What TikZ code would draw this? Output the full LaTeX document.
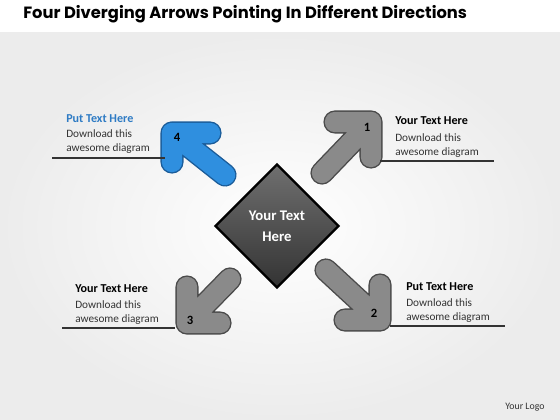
\documentclass[tikz,border=0pt]{standalone}
\usepackage{fontspec}
\setmainfont{Carlito}
\newfontfamily\titlefont{Poppins}
\usetikzlibrary{positioning, shapes.geometric}
\usepackage{xcolor}

\definecolor{headblue}{HTML}{2E7BC4}
\definecolor{arrowblue}{HTML}{2F8FDF}
\definecolor{arrowblueedge}{HTML}{1B5C99}
\definecolor{arrowgray}{HTML}{8A8A8A}
\definecolor{arrowgrayedge}{HTML}{4A4A4A}
\definecolor{bggray}{HTML}{ECECEC}
\definecolor{bodygray}{HTML}{333333}

\tikzset{
  arrowbody/.style 2 args={line cap=round, line join=round, line width=14.5pt, draw=#1,
    preaction={draw=#2, line width=16.5pt, line cap=round, line join=round}},
  numtext/.style={font=\fontsize{9}{10}\selectfont\bfseries, inner sep=0pt},
  headtext/.style={anchor=base west, inner sep=0pt, font=\fontsize{8.6}{10}\selectfont\bfseries},
  bodytext/.style={anchor=base west, inner sep=0pt, text=bodygray, font=\fontsize{8}{10}\selectfont},
  underline/.style={draw=bodygray, line width=0.8pt},
}

\begin{document}
\begin{tikzpicture}[x=0.025cm, y=-0.025cm]
  \useasboundingbox (0,0) rectangle (560,420);
  % background
  \fill[white] (0,0) rectangle (560,33);
  \shade[inner color=white, outer color=bggray] (0,33) rectangle (560,420);

  \node[anchor=base west, inner sep=0pt, font=\titlefont\fontsize{11.6}{13}\selectfont\bfseries] (title) at (23,19)
    {Four Diverging Arrows Pointing In Different Directions};

  % arrows
  \draw[arrowbody={arrowgray}{arrowgrayedge}] (335,122) -- (371,122) -- (371,157) (371,122) -- (322,173);
  \draw[arrowbody={arrowgray}{arrowgrayedge}] (380,285) -- (380,320) -- (345,320) (380,320) -- (326,270);
  \draw[arrowbody={arrowgray}{arrowgrayedge}] (187,287) -- (187,323) -- (220,323) (187,323) -- (230,279);
  \draw[arrowbody={arrowblue}{arrowblueedge}] (210,133) -- (172,133) -- (172,162) (172,133) -- (225,175);

  \node[numtext] (n1) at (367,127) {1};
  \node[numtext] (n2) at (374,313) {2};
  \node[numtext] (n3) at (190,320) {3};
  \node[numtext] (n4) at (177,137) {4};

  % centre
  \node[diamond, draw=black, line width=1.6pt, minimum width=124*0.025cm, minimum height=124*0.025cm,
    top color=gray!75!white!70!black, bottom color=black!80, text=white, align=center,
    font=\fontsize{10.5}{15}\selectfont\bfseries, inner sep=0pt] (centre) at (277,226) {Your Text\\Here};

  % text blocks
  \foreach \n/\x/\y/\lx/\rx/\head/\col in {
      a/395/125/380/494/Your Text Here/black,
      b/406/290/390/505/Put Text Here/black,
      c/75/292/62/175/Your Text Here/black,
      d/66/122/52/165/Put Text Here/headblue}
  {
    \node[headtext, text=\col] (head\n) at (\x,\y) {\head};
    \node[bodytext] (body\n) at (\x,\y+16) {Download this};
    \node[bodytext] (more\n) at (\x,\y+30) {awesome diagram};
    \coordinate (left\n) at (\lx,\y+36);
    \coordinate (right\n) at (\rx,\y+36);
    \draw[underline] (left\n) -- (right\n);
  }

  \node[text=bodygray, font=\fontsize{7}{8}\selectfont] (logo) at (525,407) {Your Logo};
\end{tikzpicture}
\end{document}
